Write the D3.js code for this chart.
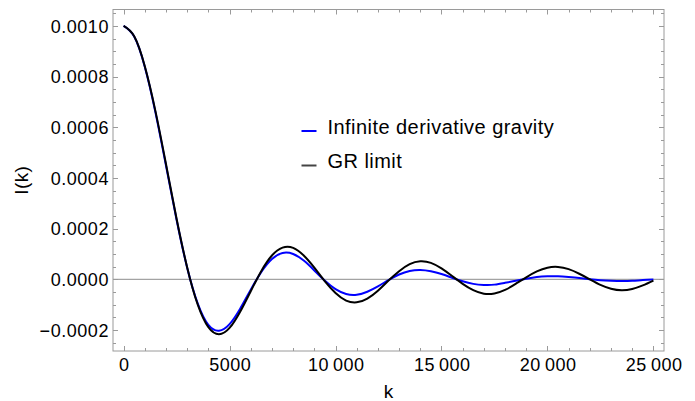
<!DOCTYPE html>
<html>
<head>
<meta charset="utf-8">
<script src="https://cdn.jsdelivr.net/npm/d3@7"></script>
<style>
  html, body { margin: 0; padding: 0; background: #fff; }
  svg { display: block; font-family: "Liberation Sans", Arial, sans-serif; }
</style>
</head>
<body>
<svg id="chart" width="695" height="401"></svg>
<script>
// ---- data ----
const kValues = [0,500,1000,1500,2000,2500,3000,3500,4000,4500,5000,5500,6000,6500,7000,7500,8000,8500,9000,9500,10000,10500,11000,11500,12000,12500,13000,13500,14000,14500,15000,15500,16000,16500,17000,17500,18000,18500,19000,19500,20000,20500,21000,21500,22000,22500,23000,23500,24000,24500,25000];
const grLimit = [0.001000,0.000959,0.000841,0.000665,0.000455,0.000239,0.000047,-0.000100,-0.000189,-0.000217,-0.000192,-0.000128,-0.000047,0.000033,0.000094,0.000125,0.000124,0.000094,0.000046,-0.000008,-0.000054,-0.000084,-0.000091,-0.000076,-0.000045,-0.000005,0.000032,0.000060,0.000071,0.000065,0.000043,0.000013,-0.000018,-0.000043,-0.000057,-0.000056,-0.000042,-0.000018,0.000008,0.000031,0.000046,0.000049,0.000040,0.000022,0.000000,-0.000022,-0.000037,-0.000043,-0.000038,-0.000024,-0.000005];
const infiniteDerivative = [0.001000,0.000958,0.000839,0.000660,0.000449,0.000235,0.000046,-0.000096,-0.000180,-0.000203,-0.000177,-0.000116,-0.000041,0.000029,0.000080,0.000104,0.000100,0.000074,0.000035,-0.000006,-0.000039,-0.000058,-0.000061,-0.000049,-0.000028,-0.000003,0.000019,0.000033,0.000037,0.000032,0.000021,0.000006,-0.000008,-0.000018,-0.000022,-0.000021,-0.000014,-0.000006,0.000002,0.000009,0.000012,0.000012,0.000009,0.000005,0.000000,-0.000004,-0.000006,-0.000007,-0.000006,-0.000003,-0.000001];
const seriesNames = ["Infinite derivative gravity", "GR limit"];
const seriesColors = ["#0000ff", "#000000"];
const swatchColors = ["#0000ff", "#444444"];
const xTickValues = [0,5000,10000,15000,20000,25000];
const xTickLabels = ["0","5000","10\u2009000","15\u2009000","20\u2009000","25\u2009000"];
const yTickValues = [-0.0002,0,0.0002,0.0004,0.0006,0.0008,0.0010];
const yTickLabels = ["\u22120.0002","0.0000","0.0002","0.0004","0.0006","0.0008","0.0010"];
const xLabel = "k";
const yLabel = "I(k)";

// ---- layout ----
const L = 113, R = 664, T = 9.5, B = 351;
const svg = d3.select("#chart");
const x = d3.scaleLinear().domain([-500, 25500]).range([L, R]);
const y = d3.scaleLinear().domain([-0.000283, 0.001065]).range([B, T]);

const frameColor = "#9a9a9a";
const fontSize = 18;

// zero line
svg.append("line")
  .attr("x1", L).attr("x2", R)
  .attr("y1", y(0)).attr("y2", y(0))
  .attr("stroke", "#8c8c8c").attr("stroke-width", 1);

// curves
const line = d3.line()
  .x((d, i) => x(kValues[i]))
  .y(d => y(d))
  .curve(d3.curveNatural);
[infiniteDerivative, grLimit].forEach((s, i) => {
  svg.append("path")
    .datum(s)
    .attr("d", line)
    .attr("fill", "none")
    .attr("stroke", seriesColors[i])
    .attr("stroke-width", 2)
    .attr("stroke-linejoin", "round");
});

// frame
svg.append("rect")
  .attr("x", L).attr("y", T)
  .attr("width", R - L).attr("height", B - T)
  .attr("fill", "none").attr("stroke", frameColor).attr("stroke-width", 1);

// ticks
const xMinor = d3.range(0, 25001, 1000).filter(v => !xTickValues.includes(v));
const yMinor = d3.range(-5, 22).map(v => v * 0.00005).filter(v => !yTickValues.some(t => Math.abs(t - v) < 1e-9));

const axisBottom = d3.axisBottom(x).tickValues(xTickValues).tickSize(0).tickFormat((d, i) => xTickLabels[i]).tickPadding(0);
const axisLeft = d3.axisLeft(y).tickValues(yTickValues).tickSize(0).tickFormat((d, i) => yTickLabels[i]).tickPadding(0);

const gx = svg.append("g").attr("transform", `translate(0,${B})`).call(axisBottom);
gx.select(".domain").remove();
gx.selectAll("text").attr("y", 19.5).attr("dy", null).attr("dx", "0.25")
  .attr("letter-spacing", 0.5)
  .attr("font-size", fontSize).attr("font-family", "Liberation Sans, Arial, sans-serif").attr("fill", "#000");

const gy = svg.append("g").attr("transform", `translate(${L},0)`).call(axisLeft);
gy.select(".domain").remove();
gy.selectAll("text").attr("x", -4).attr("dy", "0.35em")
  .attr("letter-spacing", 0.55)
  .attr("font-size", fontSize).attr("font-family", "Liberation Sans, Arial, sans-serif").attr("fill", "#000");

const tickG = svg.append("g").attr("stroke", frameColor).attr("stroke-width", 1);
function xTicks(vals, len) {
  vals.forEach(v => {
    const px = Math.round(x(v)) + 0.5;
    tickG.append("line").attr("x1", px).attr("x2", px).attr("y1", B).attr("y2", B - len);
    tickG.append("line").attr("x1", px).attr("x2", px).attr("y1", T).attr("y2", T + len);
  });
}
function yTicks(vals, len) {
  vals.forEach(v => {
    const py = Math.round(y(v)) + 0.5;
    tickG.append("line").attr("x1", L).attr("x2", L + len).attr("y1", py).attr("y2", py);
    tickG.append("line").attr("x1", R).attr("x2", R - len).attr("y1", py).attr("y2", py);
  });
}
xTicks(xTickValues, 5);
xTicks(xMinor, 3);
yTicks(yTickValues, 5);
yTicks(yMinor, 3);

// axis labels
svg.append("text").attr("x", (L + R) / 2).attr("y", 398)
  .attr("text-anchor", "middle").attr("font-size", 19).attr("fill", "#000").text(xLabel);
svg.append("text")
  .attr("transform", `translate(28,${(T + B) / 2}) rotate(-90)`)
  .attr("text-anchor", "middle").attr("font-size", 19).attr("letter-spacing", 0.4).attr("fill", "#000").text(yLabel);

// legend
const legendY = [131, 165.5];
seriesNames.forEach((name, i) => {
  svg.append("line")
    .attr("x1", 301.5).attr("x2", 316.5)
    .attr("y1", legendY[i]).attr("y2", legendY[i])
    .attr("stroke", swatchColors[i]).attr("stroke-width", 2);
  svg.append("text")
    .attr("x", 327.5).attr("y", legendY[i] + 2.5)
    .attr("font-size", 20).attr("letter-spacing", 0.45).attr("fill", "#000").text(name);
});
</script>
</body>
</html>
